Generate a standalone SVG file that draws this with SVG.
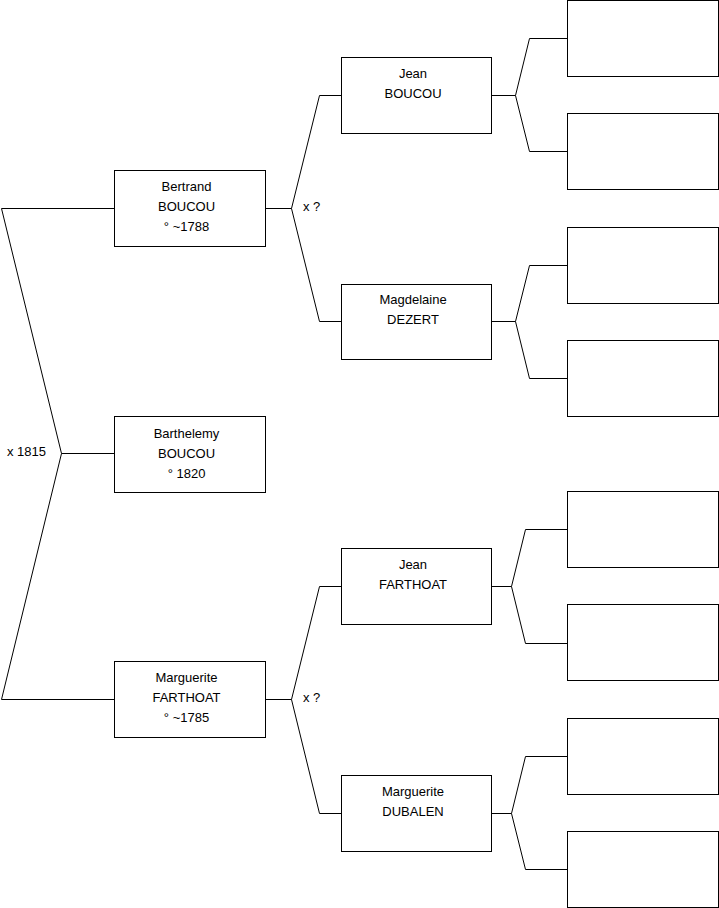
<svg xmlns="http://www.w3.org/2000/svg" width="719" height="908" viewBox="0 0 719 908">
<style>
.box{fill:#fff;stroke:#000;stroke-width:1}
.ln{fill:none;stroke:#000;stroke-width:1}
text{font-family:"Liberation Sans",Arial,sans-serif;font-size:13px;fill:#000}
.c{text-anchor:middle}
</style>
<rect width="719" height="908" fill="#fff"/>
<g id="connectors">
<path class="ln" d="M114.5,208.5 H1.5 L61.5,453.5 L1.5,699.5 H114.5 M61.5,453.5 H114.5"/>
<path class="ln" d="M265.5,208.5 H291.5 M341.5,95.5 H319.5 L291.5,208.5 L319.5,321.5 H341.5"/>
<path class="ln" d="M265.5,699.5 H291.5 M341.5,586.5 H319.5 L291.5,699.5 L319.5,813.5 H341.5"/>
<path class="ln" d="M491.5,95.5 H515.5 M567.5,38.5 H529.5 L515.5,95.5 L529.5,151.5 H567.5"/>
<path class="ln" d="M491.5,321.5 H515.5 M567.5,265.5 H529.5 L515.5,321.5 L529.5,378.5 H567.5"/>
<path class="ln" d="M491.5,586.5 H511.5 M567.5,529.5 H525.5 L511.5,586.5 L525.5,643.5 H567.5"/>
<path class="ln" d="M491.5,813.5 H511.5 M567.5,756.5 H525.5 L511.5,813.5 L525.5,869.5 H567.5"/>
<text x="7" y="456">x 1815</text>
<text x="303" y="211">x ?</text>
<text x="303" y="702">x ?</text>
</g>
<g id="n-bertrand"><rect class="box" x="114.5" y="170.5" width="151" height="76"/>
<text class="c" x="186.5" y="191">Bertrand</text><text class="c" x="186.5" y="211">BOUCOU</text><text class="c" x="186.5" y="231">° ~1788</text></g>
<g id="n-barthelemy"><rect class="box" x="114.5" y="416.5" width="151" height="76"/>
<text class="c" x="186.5" y="438">Barthelemy</text><text class="c" x="186.5" y="458">BOUCOU</text><text class="c" x="186.5" y="478">° 1820</text></g>
<g id="n-marguerite-f"><rect class="box" x="114.5" y="661.5" width="151" height="76"/>
<text class="c" x="186.5" y="682">Marguerite</text><text class="c" x="186.5" y="702">FARTHOAT</text><text class="c" x="186.5" y="722">° ~1785</text></g>
<g id="n-jean-b"><rect class="box" x="341.5" y="57.5" width="150" height="76"/>
<text class="c" x="413" y="78">Jean</text><text class="c" x="413" y="98">BOUCOU</text></g>
<g id="n-magdelaine"><rect class="box" x="341.5" y="284.5" width="150" height="75"/>
<text class="c" x="413" y="304">Magdelaine</text><text class="c" x="413" y="324">DEZERT</text></g>
<g id="n-jean-f"><rect class="box" x="341.5" y="548.5" width="150" height="76"/>
<text class="c" x="413" y="569">Jean</text><text class="c" x="413" y="589">FARTHOAT</text></g>
<g id="n-marguerite-d"><rect class="box" x="341.5" y="775.5" width="150" height="76"/>
<text class="c" x="413" y="796">Marguerite</text><text class="c" x="413" y="816">DUBALEN</text></g>
<g id="n-g1"><rect class="box" x="567.5" y="0.5" width="151" height="76"/></g>
<g id="n-g2"><rect class="box" x="567.5" y="113.5" width="151" height="76"/></g>
<g id="n-g3"><rect class="box" x="567.5" y="227.5" width="151" height="76"/></g>
<g id="n-g4"><rect class="box" x="567.5" y="340.5" width="151" height="76"/></g>
<g id="n-g5"><rect class="box" x="567.5" y="491.5" width="151" height="76"/></g>
<g id="n-g6"><rect class="box" x="567.5" y="604.5" width="151" height="76"/></g>
<g id="n-g7"><rect class="box" x="567.5" y="718.5" width="151" height="76"/></g>
<g id="n-g8"><rect class="box" x="567.5" y="831.5" width="151" height="76"/></g>
</svg>
